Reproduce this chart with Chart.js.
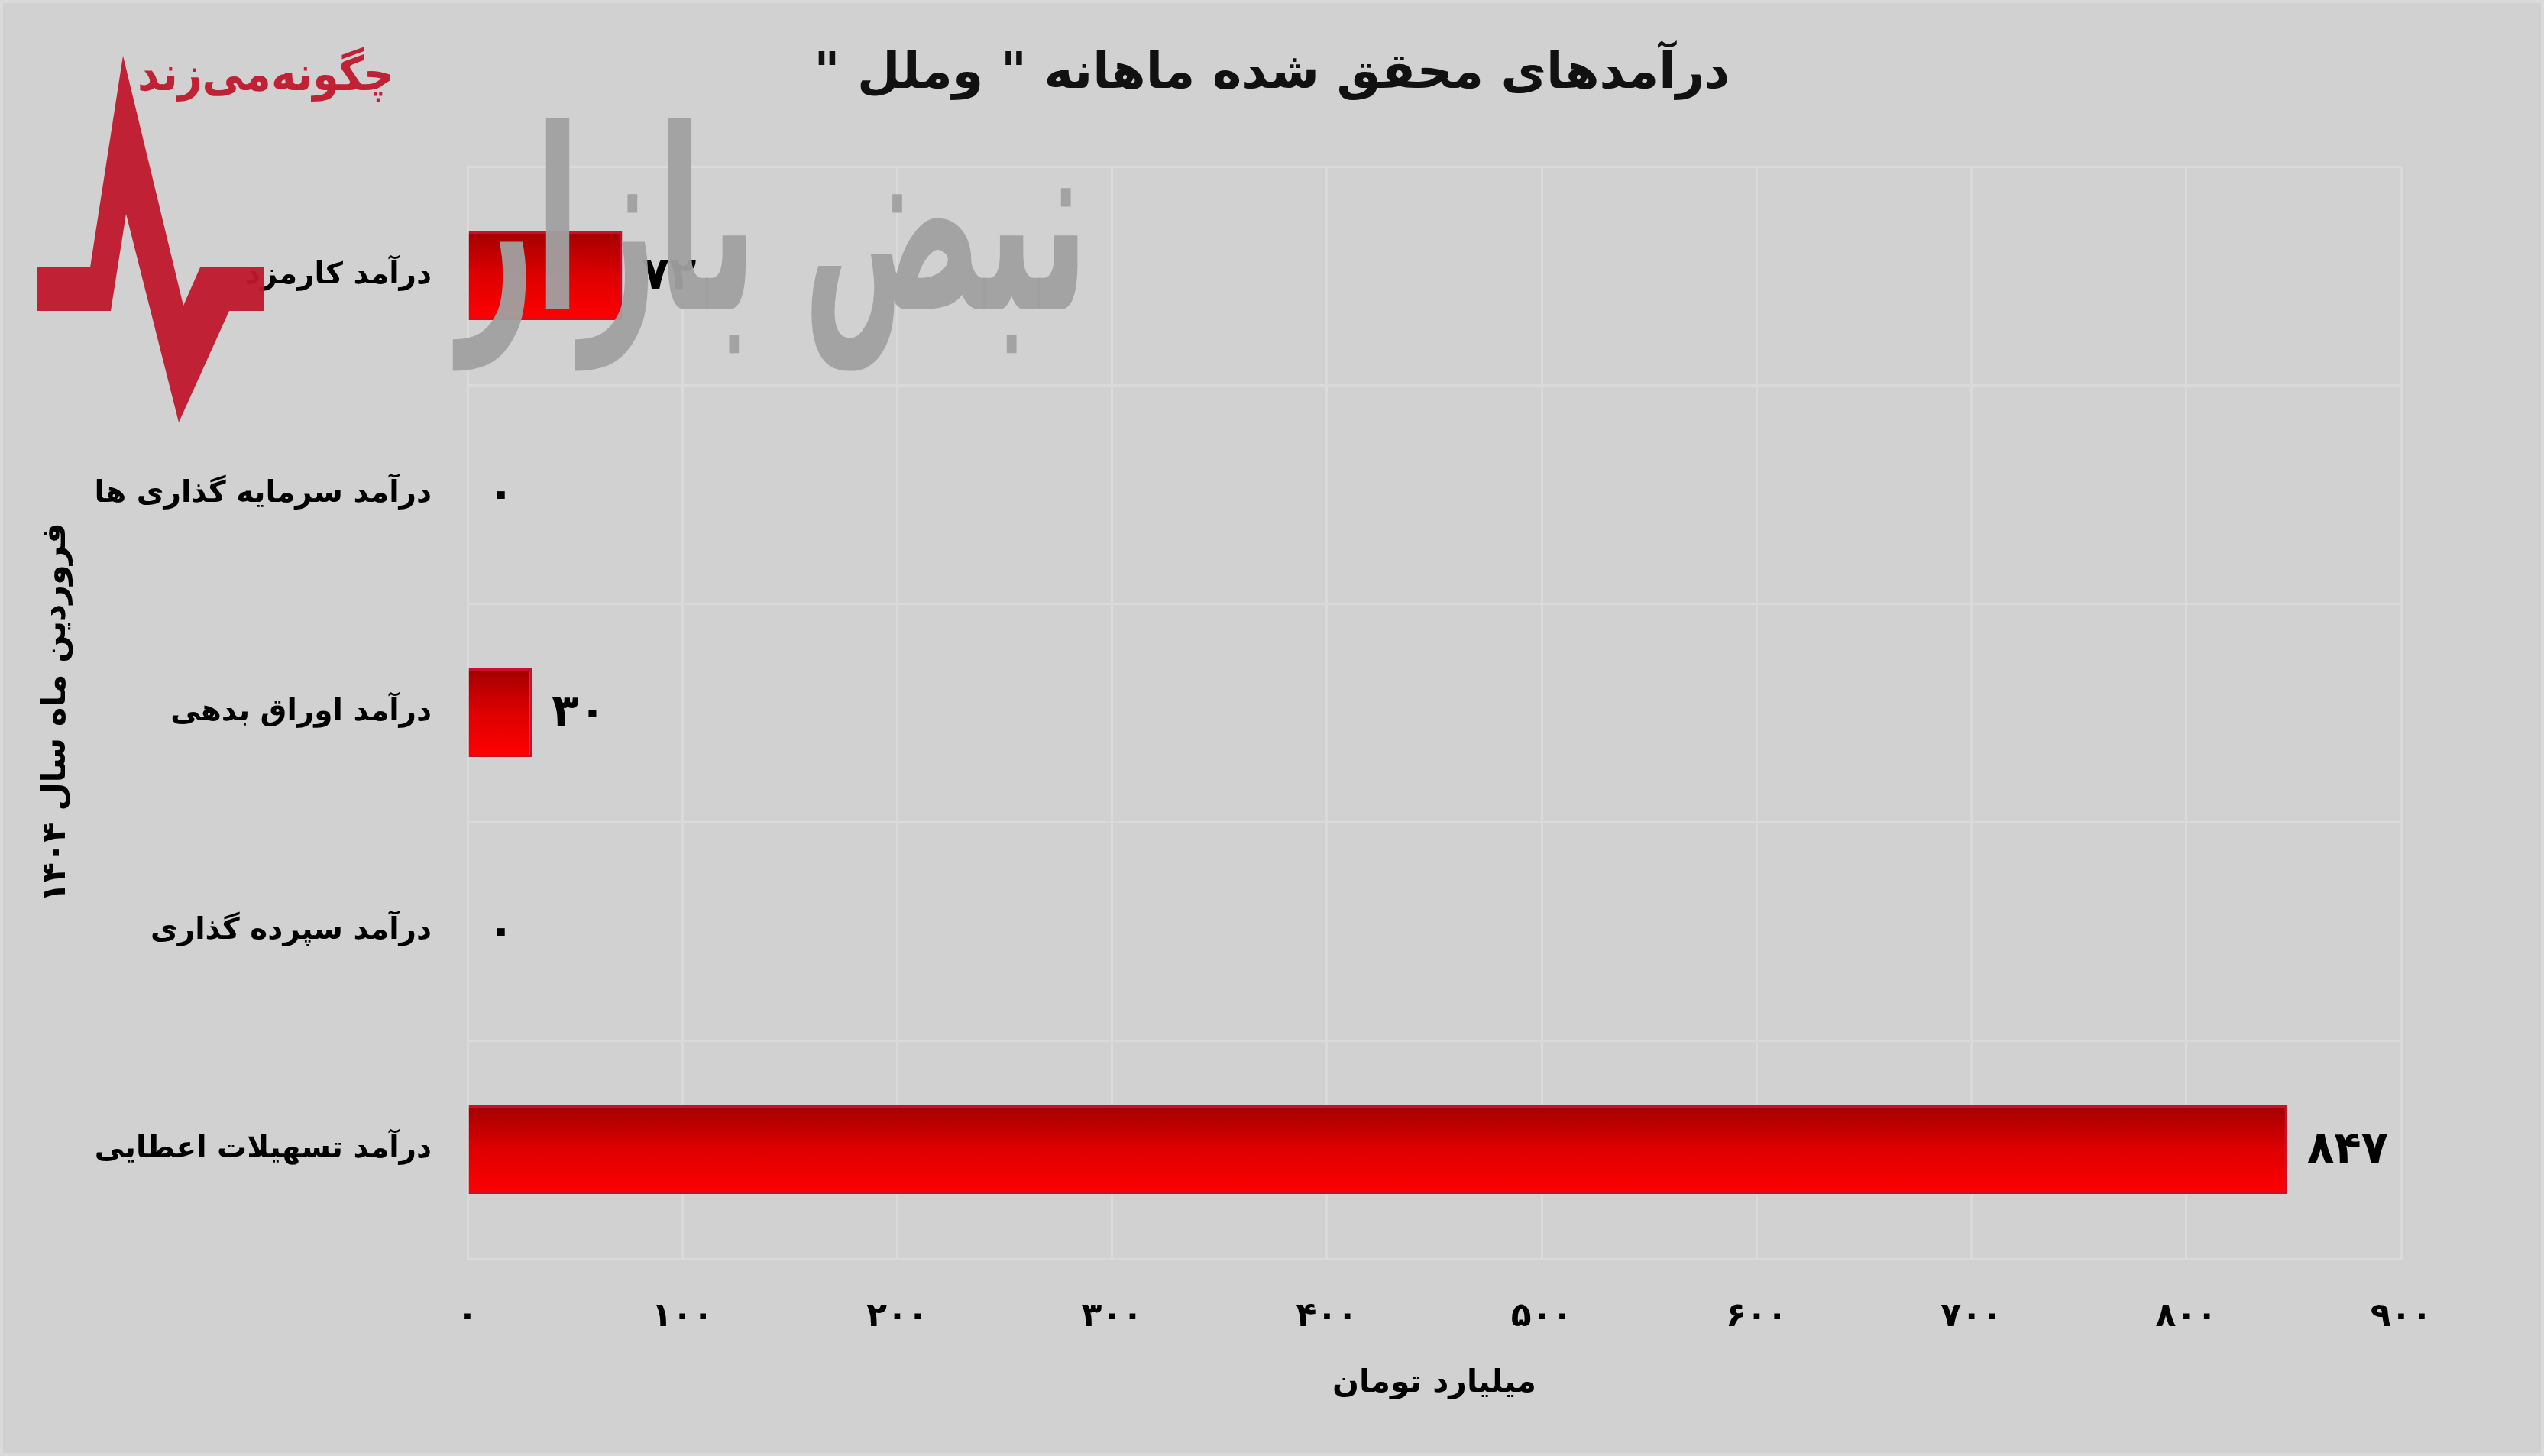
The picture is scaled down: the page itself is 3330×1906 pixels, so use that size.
<!DOCTYPE html>
<html>
<head>
<meta charset="utf-8">
<script src="https://cdn.jsdelivr.net/npm/chart.js@4.4.1/dist/chart.umd.min.js"></script>
<style>
  html, body { margin: 0; padding: 0; background: #d1d1d1; }
  canvas { display: block; }
</style>
</head>
<body>
<canvas id="c" width="3330" height="1906" dir="rtl"></canvas>
<script>
// ---- data ----
const categories = ['درآمد کارمزد', 'درآمد سرمایه گذاری ها', 'درآمد اوراق بدهی', 'درآمد سپرده گذاری', 'درآمد تسهیلات اعطایی'];
const values = [72, 0, 30, 0, 847];
const xTickValues = [0, 100, 200, 300, 400, 500, 600, 700, 800, 900];
const chartTitle = 'درآمدهای محقق شده ماهانه " وملل "';
const xAxisTitle = 'میلیارد تومان';
const yAxisTitle = 'فروردین ماه سال ۱۴۰۴';
const watermarkTag = 'چگونه‌می‌زند';
const watermarkName = 'نبض بازار';

const faDigits = '۰۱۲۳۴۵۶۷۸۹';
const toFa = v => String(v).replace(/\d/g, d => faDigits[+d]);

const FONT = 'DejaVu Sans';
const GRID = '#dadada';
const BAR_FRAC = 0.406;

const titlePlugin = {
  id: 'titlePlugin',
  afterDraw(chart) {
    const ctx = chart.ctx;
    ctx.save();
    ctx.font = 'bold 65px "' + FONT + '"';
    ctx.fillStyle = '#111';
    ctx.direction = 'rtl';
    ctx.textAlign = 'center';
    ctx.textBaseline = 'middle';
    ctx.fillText(chartTitle, chart.width / 2, 98);
    ctx.restore();
  }
};

const valueLabels = {
  id: 'valueLabels',
  afterDatasetsDraw(chart) {
    const ctx = chart.ctx;
    const meta = chart.getDatasetMeta(0);
    ctx.save();
    ctx.font = 'bold 58px "' + FONT + '"';
    ctx.fillStyle = '#000';
    ctx.textAlign = 'left';
    ctx.textBaseline = 'middle';
    ctx.direction = 'ltr';
    meta.data.forEach((bar, i) => {
      const v = chart.data.datasets[0].data[i];
      ctx.fillText(toFa(v), bar.x + 26, bar.y + 2);
    });
    ctx.restore();
  }
};

const decor = {
  id: 'decor',
  afterDraw(chart) {
    const ctx = chart.ctx;
    ctx.save();
    // outer light frame
    ctx.strokeStyle = '#dadada';
    ctx.lineWidth = 4;
    ctx.strokeRect(2, 2, chart.width - 4, chart.height - 4);

    // watermark: gray logo word
    ctx.globalAlpha = 0.95;
    ctx.font = 'bold 330px "' + FONT + '"';
    ctx.direction = 'rtl';
    ctx.textAlign = 'right';
    ctx.textBaseline = 'alphabetic';
    const w = ctx.measureText(watermarkName).width;
    ctx.save();
    ctx.translate(1425, 405);
    ctx.scale(825 / w, 1);
    ctx.fillStyle = '#a0a0a0';
    ctx.fillText(watermarkName, 0, 0);
    ctx.restore();

    // heartbeat shape
    ctx.fillStyle = '#c0172b';
    const pts = [[48,350],[118,350],[161,73],[240,400],[262,350],[345,350],
                 [345,407],[300,407],[234,553],[165,280],[145,407],[48,407]];
    ctx.beginPath();
    pts.forEach((p, i) => (i ? ctx.lineTo(p[0], p[1]) : ctx.moveTo(p[0], p[1])));
    ctx.closePath();
    ctx.fill();

    // tagline
    ctx.font = 'bold 62px "' + FONT + '"';
    const tw = ctx.measureText(watermarkTag).width;
    ctx.save();
    ctx.translate(516, 118);
    ctx.scale(336 / tw, 1);
    ctx.fillStyle = '#c0172b';
    ctx.fillText(watermarkTag, 0, 0);
    ctx.restore();
    ctx.restore();
  }
};

function barGradient(c) {
  const chart = c.chart;
  if (!chart.chartArea || c.dataIndex === undefined) return '#e00000';
  const ys = chart.scales.y;
  const yc = ys.getPixelForValue(c.dataIndex);
  const h = (ys.height / categories.length) * BAR_FRAC / 2;
  const g = chart.ctx.createLinearGradient(0, yc - h, 0, yc + h);
  g.addColorStop(0, '#a20000');
  g.addColorStop(0.5, '#de0000');
  g.addColorStop(1, '#ff0000');
  return g;
}

new Chart(document.getElementById('c'), {
  type: 'bar',
  data: {
    labels: categories,
    datasets: [{
      data: values,
      backgroundColor: barGradient,
      borderColor: '#c8102e',
      borderWidth: c => (c.raw === 0 ? 0 : 3),
      borderSkipped: 'start',
      categoryPercentage: 1,
      barPercentage: BAR_FRAC
    }]
  },
  options: {
    indexAxis: 'y',
    responsive: false,
    devicePixelRatio: 1,
    animation: false,
    layout: { padding: { left: 0, right: 187, top: 218, bottom: 0 } },
    plugins: {
      legend: { display: false },
      tooltip: { enabled: false },
      title: { display: false }
    },
    scales: {
      x: {
        type: 'linear',
        min: 0,
        max: 900,
        afterBuildTicks: s => { s.ticks = xTickValues.map(v => ({ value: v })); },
        afterFit: s => { s.height = 258; },
        grid: { color: GRID, lineWidth: 3, drawTicks: false },
        border: { color: GRID, width: 3 },
        ticks: {
          color: '#000',
          padding: 50,
          font: { family: FONT, size: 44, weight: 'bold' },
          callback: v => toFa(v)
        },
        title: {
          display: true,
          text: xAxisTitle,
          color: '#000',
          font: { family: FONT, size: 41, weight: 'bold' },
          padding: { top: 0, bottom: 70 }
        }
      },
      y: {
        afterFit: s => { s.width = 612; },
        grid: { color: GRID, lineWidth: 3, drawTicks: false, offset: true },
        border: { color: GRID, width: 3 },
        ticks: {
          color: '#000',
          padding: 47,
          font: { family: FONT, size: 39, weight: 'bold' }
        },
        title: {
          display: true,
          text: yAxisTitle,
          color: '#000',
          font: { family: FONT, size: 43, weight: 'bold' },
          padding: { top: 48, bottom: 0 }
        }
      }
    }
  },
  plugins: [valueLabels, decor, titlePlugin]
});
</script>
</body>
</html>
